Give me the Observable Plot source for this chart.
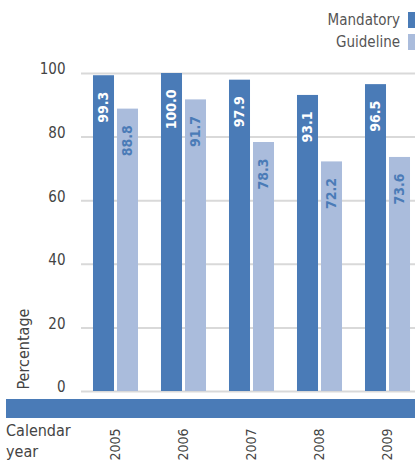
<!DOCTYPE html>
<html>
<head>
<meta charset="utf-8">
<script src="https://cdn.jsdelivr.net/npm/d3@7"></script>
<script src="https://cdn.jsdelivr.net/npm/@observablehq/plot@0.6"></script>
<style>
  html, body { margin: 0; padding: 0; background: #fff; }
  #wrap { position: relative; width: 415px; height: 461px; overflow: hidden;
    font-family: "DejaVu Sans Condensed", "DejaVu Sans", sans-serif; font-stretch: condensed; color: #444; }
  #chart { position: absolute; left: 0; top: 0; }
  .legend { position: absolute; right: 0; display: flex; align-items: center; font-size: 15px; color: #555; }
  .legend span.sw { display: inline-block; width: 9px; height: 16px; margin-left: 8px; }
  #band { position: absolute; left: 6px; top: 399px; width: 409px; height: 19px; background: #4a7bb7; }
  #xlabel { position: absolute; left: 6px; top: 420px; font-size: 16px; line-height: 21px; color: #444; }
</style>
</head>
<body>
<div id="wrap">
  <div id="chart"></div>
  <div id="band"></div>
  <div id="xlabel">Calendar<br>year</div>
  <div id="legend"></div>
</div>
<script>
const years = ["2005", "2006", "2007", "2008", "2009"];
const mandatory = [99.3, 100.0, 97.9, 93.1, 96.5];
const guideline = [88.8, 91.7, 78.3, 72.2, 73.6];
const seriesNames = ["Mandatory", "Guideline"];
const seriesColors = ["#4a7bb7", "#aabcdc"];
const yTicks = [0, 20, 40, 60, 80, 100];
const yLabel = "Percentage";

const mData = years.map((year, i) => ({year, value: mandatory[i], series: seriesNames[0]}));
const gData = years.map((year, i) => ({year, value: guideline[i], series: seriesNames[1]}));

const font = "'DejaVu Sans Condensed', 'DejaVu Sans', sans-serif";

const chart = Plot.plot({
  width: 415,
  height: 461,
  marginLeft: 81,
  marginRight: 0,
  marginTop: 73,
  marginBottom: 70,
  style: {fontFamily: font, fontStretch: "condensed", color: "#444", background: "transparent", overflow: "visible"},
  x: {type: "band", domain: years, range: [81.5, 421.5], paddingInner: 0.338, paddingOuter: 0.169, round: false},
  y: {domain: [0, 100]},
  marks: [
    Plot.gridY(yTicks, {stroke: "#d9d9d9", strokeOpacity: 1, strokeWidth: 2}),
    Plot.axisY(yTicks, {tickSize: 0, tickPadding: 16, fontSize: 15, dy: -4, label: null, fill: "#444"}),
    Plot.axisX({tickSize: 0, tickRotate: -90, tickPadding: 37, fontSize: 14, label: null, fill: "#444"}),
    Plot.barY(mData, {x: "year", y: "value", fill: seriesColors[0], insetLeft: 0, insetRight: 24}),
    Plot.barY(gData, {x: "year", y: "value", fill: seriesColors[1], insetLeft: 24, insetRight: 0}),
    Plot.text(mData, {x: "year", y: "value", text: d => d.value.toFixed(1), rotate: -90, textAnchor: "end", lineAnchor: "middle", dx: -12, dy: 16, fill: "white", fontWeight: "bold", fontSize: 14}),
    Plot.text(gData, {x: "year", y: "value", text: d => d.value.toFixed(1), rotate: -90, textAnchor: "end", lineAnchor: "middle", dx: 12, dy: 16, fill: seriesColors[0], fontWeight: "bold", fontSize: 14}),
    Plot.text([yLabel], {frameAnchor: "bottom-left", rotate: -90, textAnchor: "start", lineAnchor: "middle", dx: -58, dy: -2, fontSize: 16, fill: "#444"})
  ]
});
document.getElementById("chart").appendChild(chart);

const legend = document.getElementById("legend");
seriesNames.forEach((name, i) => {
  const row = document.createElement("div");
  row.className = "legend";
  row.style.top = (12 + i * 22) + "px";
  row.style.height = "16px";
  row.style.right = "-2px";
  row.innerHTML = `<span>${name}</span><span class="sw" style="background:${seriesColors[i]}"></span>`;
  legend.appendChild(row);
});
</script>
</body>
</html>
